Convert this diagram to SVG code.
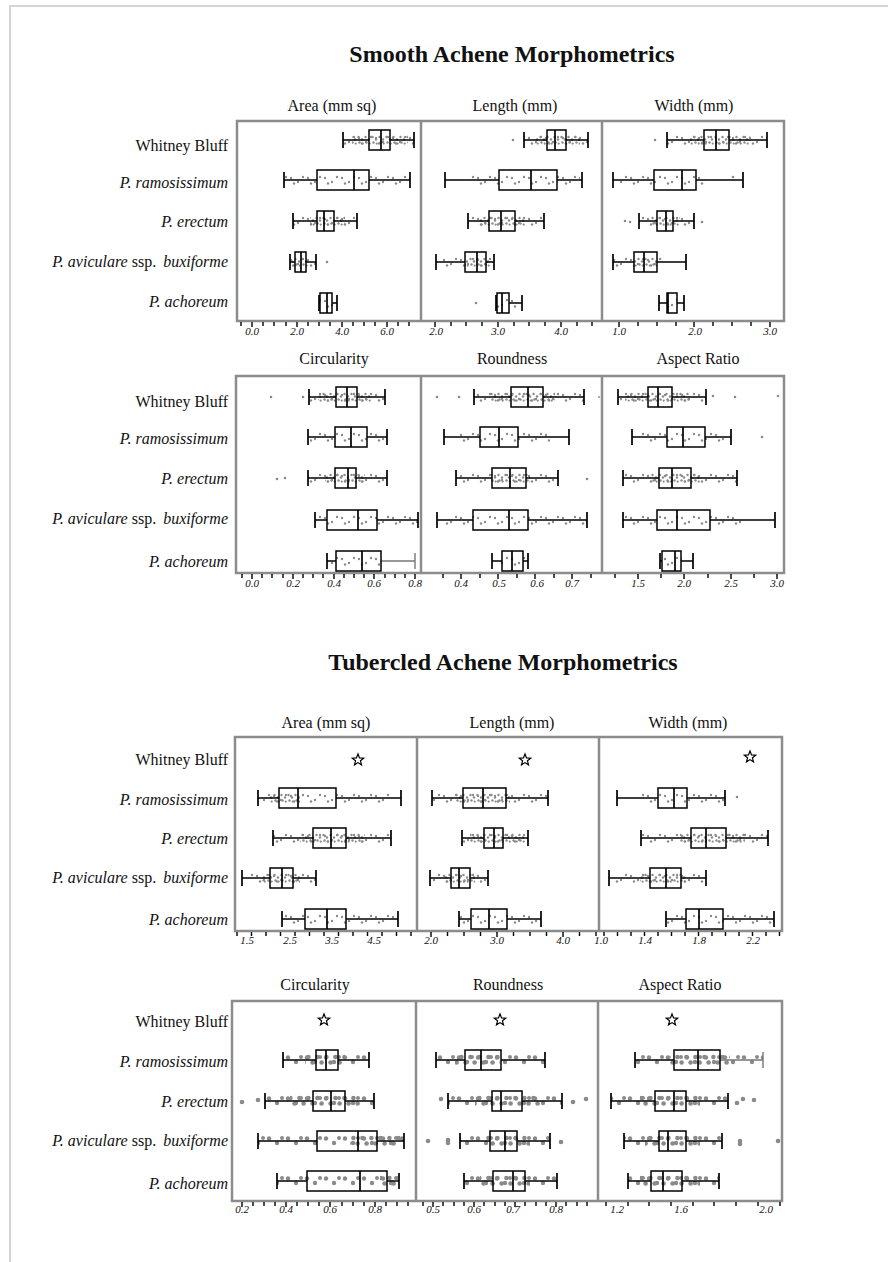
<svg xmlns="http://www.w3.org/2000/svg" xmlns:xlink="http://www.w3.org/1999/xlink" width="888" height="1262" viewBox="0 0 888 1262">
<style>
text{font-family:"Liberation Serif","Times New Roman",serif;fill:#111}
.tt{font-size:24px;font-weight:bold;text-anchor:middle}
.hd{font-size:16px;text-anchor:middle}
.lb{font-size:16px;text-anchor:end}
.i{font-style:italic}
.ax{font-size:11px;font-style:italic;text-anchor:middle}
.fr{fill:none;stroke:#8c8c8c;stroke-width:2.5}
.pg{fill:none;stroke:#c8c8c8;stroke-width:1.5}
.b{fill:none;stroke:#000;stroke-width:1.5}
.w{fill:none;stroke:#000;stroke-width:1.7}
.gw{fill:none;stroke:#777;stroke-width:1.4}
.tk{fill:none;stroke:#000;stroke-width:1.4}
.s{fill:url(#ps)}.d{fill:url(#pd)}.S{fill:url(#pS)}.D{fill:url(#pD)}
.o{fill:#8a8a8a}
.st{fill:none;stroke:#000;stroke-width:1.2}
</style>
<defs>
<pattern id="ps" width="17" height="10" patternUnits="userSpaceOnUse"><g fill="#8a8a8a"><circle cx="2" cy="3" r="1.2"/><circle cx="9" cy="7" r="1.2"/><circle cx="14" cy="2" r="1.2"/><circle cx="5" cy="8.5" r="1.2"/></g></pattern>
<pattern id="pd" width="7" height="10" patternUnits="userSpaceOnUse"><g fill="#8a8a8a"><circle cx="1.5" cy="2" r="1.2"/><circle cx="5" cy="4.5" r="1.2"/><circle cx="2.5" cy="7.5" r="1.2"/><circle cx="5.7" cy="8.6" r="1.1"/></g></pattern>
<pattern id="pS" width="19" height="12" patternUnits="userSpaceOnUse"><g fill="#8a8a8a"><circle cx="3" cy="3.5" r="2.2"/><circle cx="11" cy="8" r="2.2"/><circle cx="16" cy="3" r="2"/></g></pattern>
<pattern id="pD" width="9" height="12" patternUnits="userSpaceOnUse"><g fill="#8a8a8a"><circle cx="2.4" cy="3" r="2.3"/><circle cx="6.6" cy="8.5" r="2.3"/></g></pattern>
<path id="star" class="st" d="M0,-6L1.53,-2.1L5.71,-1.85L2.47,0.8L3.53,4.85L0,2.6L-3.53,4.85L-2.47,0.8L-5.71,-1.85L-1.53,-2.1Z"/>
</defs>
<rect width="888" height="1262" fill="#fff"/>
<path class="pg" d="M10 1262V6H888"/>

<text class="tt" x="512" y="62">Smooth Achene Morphometrics</text>
<text class="tt" x="503" y="670">Tubercled Achene Morphometrics</text>

<g id="labels">
<text class="lb" x="228" y="151">Whitney Bluff</text>
<text class="lb i" x="228" y="188">P. ramosissimum</text>
<text class="lb i" x="228" y="227">P. erectum</text>
<text class="lb" x="228" y="267"><tspan class="i">P. aviculare</tspan> ssp. <tspan class="i" dx="3">buxiforme</tspan></text>
<text class="lb i" x="228" y="307">P. achoreum</text>
<text class="lb" x="228" y="407">Whitney Bluff</text>
<text class="lb i" x="228" y="444">P. ramosissimum</text>
<text class="lb i" x="228" y="484">P. erectum</text>
<text class="lb" x="228" y="524"><tspan class="i">P. aviculare</tspan> ssp. <tspan class="i" dx="3">buxiforme</tspan></text>
<text class="lb i" x="228" y="567">P. achoreum</text>
<text class="lb" x="228" y="765">Whitney Bluff</text>
<text class="lb i" x="228" y="805">P. ramosissimum</text>
<text class="lb i" x="228" y="844">P. erectum</text>
<text class="lb" x="228" y="883"><tspan class="i">P. aviculare</tspan> ssp. <tspan class="i" dx="3">buxiforme</tspan></text>
<text class="lb i" x="228" y="925">P. achoreum</text>
<text class="lb" x="228" y="1027">Whitney Bluff</text>
<text class="lb i" x="228" y="1067">P. ramosissimum</text>
<text class="lb i" x="228" y="1107">P. erectum</text>
<text class="lb" x="228" y="1146"><tspan class="i">P. aviculare</tspan> ssp. <tspan class="i" dx="3">buxiforme</tspan></text>
<text class="lb i" x="228" y="1189">P. achoreum</text>
</g>

<g id="headers">
<text class="hd" x="332" y="111">Area (mm sq)</text>
<text class="hd" x="515" y="111">Length (mm)</text>
<text class="hd" x="694" y="111">Width (mm)</text>
<text class="hd" x="334" y="364">Circularity</text>
<text class="hd" x="512" y="364">Roundness</text>
<text class="hd" x="698" y="364">Aspect Ratio</text>
<text class="hd" x="326" y="728">Area (mm sq)</text>
<text class="hd" x="512" y="728">Length (mm)</text>
<text class="hd" x="688" y="728">Width (mm)</text>
<text class="hd" x="315" y="990">Circularity</text>
<text class="hd" x="508" y="990">Roundness</text>
<text class="hd" x="680" y="990">Aspect Ratio</text>
</g>

<g id="frames">
<rect class="fr" x="237" y="121" width="547" height="200"/><path class="fr" d="M421 121V321M602 121V321"/>
<rect class="fr" x="236" y="376" width="548" height="197"/><path class="fr" d="M421 376V573M602 376V573"/>
<rect class="fr" x="235" y="737" width="547" height="194"/><path class="fr" d="M417 737V931M599 737V931"/>
<rect class="fr" x="232" y="1001" width="550" height="200"/><path class="fr" d="M416 1001V1201M598 1001V1201"/>
</g>

<g id="axes">
<path class="tk" d="M241 322v4M252 322v5M263 322v4M274 322v4M286 322v4M297 322v5M308 322v4M319 322v4M330 322v4M342 322v5M353 322v4M364 322v4M375 322v4M387 322v5M398 322v4M409 322v4M435 322v5M451 322v4M466 322v4M482 322v4M498 322v5M514 322v4M529 322v4M545 322v4M561 322v5M577 322v4M592 322v4M619 322v5M638 322v4M657 322v4M676 322v4M694 322v5M713 322v4M732 322v4M751 322v4M770 322v5"/>
<text class="ax" x="252" y="335">0.0</text><text class="ax" x="297" y="335">2.0</text><text class="ax" x="342" y="335">4.0</text><text class="ax" x="387" y="335">6.0</text>
<text class="ax" x="436" y="335">2.0</text><text class="ax" x="498" y="335">3.0</text><text class="ax" x="561" y="335">4.0</text>
<text class="ax" x="619" y="335">1.0</text><text class="ax" x="695" y="335">2.0</text><text class="ax" x="770" y="335">3.0</text>

<path class="tk" d="M242 574v4M252 574v5M262 574v4M272 574v4M283 574v4M293 574v5M303 574v4M313 574v4M323 574v4M334 574v5M344 574v4M354 574v4M364 574v4M374 574v5M385 574v4M395 574v4M405 574v4M415 574v5M443 574v4M461 574v5M480 574v4M498 574v5M517 574v4M535 574v5M554 574v4M572 574v5M591 574v4M615 574v4M638 574v5M661 574v4M684 574v5M708 574v4M731 574v5M754 574v4M777 574v5"/>
<text class="ax" x="252" y="587">0.0</text><text class="ax" x="293" y="587">0.2</text><text class="ax" x="334" y="587">0.4</text><text class="ax" x="374" y="587">0.6</text><text class="ax" x="415" y="587">0.8</text>
<text class="ax" x="461" y="587">0.4</text><text class="ax" x="499" y="587">0.5</text><text class="ax" x="537" y="587">0.6</text><text class="ax" x="572" y="587">0.7</text>
<text class="ax" x="638" y="587">1.5</text><text class="ax" x="684" y="587">2.0</text><text class="ax" x="731" y="587">2.5</text><text class="ax" x="777" y="587">3.0</text>

<path class="tk" d="M237 932v4M251.5 932v4M266 932v4M280.5 932v4M295 932v4M309.5 932v4M324 932v4M338.5 932v4M353 932v4M367.5 932v4M382 932v4M396.5 932v4M411 932v4M431 932v5M447.5 932v4M464 932v4M480.5 932v4M497 932v5M513.5 932v4M530 932v4M546.5 932v4M563 932v5M579.5 932v4M596 932v4M604 932v4M617.5 932v4M631 932v4M644.5 932v4M658 932v4M671.5 932v4M685 932v4M698.5 932v4M712 932v4M725.5 932v4M739 932v4M752.5 932v4M766 932v4M779.5 932v4"/>
<text class="ax" x="247" y="944">1.5</text><text class="ax" x="290" y="944">2.5</text><text class="ax" x="332" y="944">3.5</text><text class="ax" x="374" y="944">4.5</text>
<text class="ax" x="431" y="944">2.0</text><text class="ax" x="497" y="944">3.0</text><text class="ax" x="563" y="944">4.0</text>
<text class="ax" x="601" y="944">1.0</text><text class="ax" x="645" y="944">1.4</text><text class="ax" x="699" y="944">1.8</text><text class="ax" x="753" y="944">2.2</text>

<path class="tk" d="M242 1202v5M253 1202v4M264 1202v4M275 1202v4M286 1202v5M297 1202v4M308 1202v4M319 1202v4M330 1202v5M342 1202v4M353 1202v4M364 1202v4M375 1202v5M386 1202v4M397 1202v4M408 1202v4M423 1202v4M433 1202v5M443 1202v4M454 1202v4M464 1202v4M474 1202v5M484 1202v4M495 1202v4M505 1202v4M515 1202v5M525 1202v4M536 1202v4M546 1202v4M556 1202v5M566 1202v4M577 1202v4M587 1202v4M606 1202v4M628 1202v4M649 1202v4M671 1202v4M693 1202v4M714 1202v4M736 1202v4M758 1202v4M780 1202v4"/>
<text class="ax" x="242" y="1213">0.2</text><text class="ax" x="286" y="1213">0.4</text><text class="ax" x="330" y="1213">0.6</text><text class="ax" x="375" y="1213">0.8</text>
<text class="ax" x="433" y="1213">0.5</text><text class="ax" x="474" y="1213">0.6</text><text class="ax" x="513" y="1213">0.7</text><text class="ax" x="556" y="1213">0.8</text>
<text class="ax" x="617" y="1213">1.2</text><text class="ax" x="681" y="1213">1.6</text><text class="ax" x="766" y="1213">2.0</text>
</g>

<!-- Smooth row 1 -->
<g id="s-area">
<g id="s-area-wb"><rect class="s" transform="translate(0 135)" x="343" width="71" height="10"/><rect class="d" transform="translate(0 135)" x="352" width="56" height="10"/><path class="w" d="M343 140H369M390 140H414M343 132v16M414 132v16M381 130v20"/><rect class="b" x="369" y="130" width="21" height="20"/></g>
<g id="s-area-ram"><rect class="s" transform="translate(0 175)" x="284" width="126" height="10"/><path class="w" d="M284 180H317M369 180H410M284 172v16M410 172v16M354 170v20"/><rect class="b" x="317" y="170" width="52" height="20"/></g>
<g id="s-area-ere"><rect class="s" transform="translate(0 216)" x="293" width="64" height="10"/><rect class="d" transform="translate(0 216)" x="310" width="35" height="10"/><path class="w" d="M293 221H317M334 221H357M293 213v16M357 213v16M324 211v20"/><rect class="b" x="317" y="211" width="17" height="20"/></g>
<g id="s-area-avi"><rect class="s" transform="translate(0 257)" x="290" width="26" height="10"/><rect class="d" transform="translate(0 257)" x="292" width="16" height="10"/><path class="w" d="M290 262H295M306 262H316M290 254v16M316 254v16M301 252v20"/><rect class="b" x="295" y="252" width="11" height="20"/><circle class="o" cx="327" cy="262" r="1.3"/></g>
<g id="s-area-ach"><rect class="s" transform="translate(0 298)" x="320" width="14" height="10"/><path class="w" d="M319 303H320M332 303H337M319 295v16M337 295v16M327 293v20"/><rect class="b" x="320" y="293" width="12" height="20"/></g>
</g>
<g id="s-length">
<g id="s-len-wb"><rect class="s" transform="translate(0 135)" x="524" width="64" height="10"/><rect class="d" transform="translate(0 135)" x="535" width="45" height="10"/><path class="w" d="M524 140H547M566 140H588M524 132v16M588 132v16M555 130v20"/><rect class="b" x="547" y="130" width="19" height="20"/><circle class="o" cx="513" cy="140" r="1.3"/></g>
<g id="s-len-ram"><rect class="s" transform="translate(0 175)" x="470" width="110" height="10"/><path class="w" d="M445 180H499M557 180H582M445 172v16M582 172v16M531 170v20"/><rect class="b" x="499" y="170" width="58" height="20"/></g>
<g id="s-len-ere"><rect class="s" transform="translate(0 216)" x="468" width="76" height="10"/><rect class="d" transform="translate(0 216)" x="480" width="45" height="10"/><path class="w" d="M468 221H489M515 221H544M468 213v16M544 213v16M501 211v20"/><rect class="b" x="489" y="211" width="26" height="20"/></g>
<g id="s-len-avi"><rect class="s" transform="translate(0 257)" x="440" width="54" height="10"/><rect class="d" transform="translate(0 257)" x="465" width="25" height="10"/><path class="w" d="M436 262H465M486 262H494M436 254v16M494 254v16M477 252v20"/><rect class="b" x="465" y="252" width="21" height="20"/></g>
<g id="s-len-ach"><rect class="s" transform="translate(0 298)" x="497" width="20" height="10"/><path class="w" d="M496 303H497M509 303H522M496 295v16M522 295v16M502 293v20"/><rect class="b" x="497" y="293" width="12" height="20"/><circle class="o" cx="476" cy="303" r="1.3"/></g>
</g>
<g id="s-width">
<g id="s-wid-wb"><rect class="s" transform="translate(0 135)" x="667" width="100" height="10"/><rect class="d" transform="translate(0 135)" x="690" width="60" height="10"/><path class="w" d="M667 140H704M729 140H767M667 132v16M767 132v16M716 130v20"/><rect class="b" x="704" y="130" width="25" height="20"/><circle class="o" cx="655" cy="140" r="1.3"/></g>
<g id="s-wid-ram"><rect class="s" transform="translate(0 175)" x="620" width="85" height="10"/><path class="w" d="M613 180H654M696 180H743M613 172v16M743 172v16M682 170v20"/><rect class="b" x="654" y="170" width="42" height="20"/><circle class="o" cx="733" cy="177" r="1.3"/></g>
<g id="s-wid-ere"><rect class="s" transform="translate(0 216)" x="639" width="55" height="10"/><rect class="d" transform="translate(0 216)" x="650" width="30" height="10"/><path class="w" d="M639 221H657M673 221H694M639 213v16M694 213v16M666 211v20"/><rect class="b" x="657" y="211" width="16" height="20"/><circle class="o" cx="625" cy="221" r="1.3"/><circle class="o" cx="630" cy="222" r="1.3"/><circle class="o" cx="702" cy="222" r="1.3"/></g>
<g id="s-wid-avi"><rect class="s" transform="translate(0 257)" x="613" width="50" height="10"/><rect class="d" transform="translate(0 257)" x="634" width="23" height="10"/><path class="w" d="M613 262H634M657 262H686M613 254v16M686 254v16M644 252v20"/><rect class="b" x="634" y="252" width="23" height="20"/></g>
<g id="s-wid-ach"><rect class="s" transform="translate(0 298)" x="667" width="10" height="10"/><path class="w" d="M659 303H667M677 303H684M659 295v16M684 295v16M668 293v20"/><rect class="b" x="667" y="293" width="10" height="20"/></g>
</g>

<!-- Smooth row 2 -->
<g id="s-circ">
<g id="s-cir-wb"><rect class="s" transform="translate(0 392)" x="309" width="76" height="10"/><rect class="d" transform="translate(0 392)" x="318" width="54" height="10"/><path class="w" d="M309 397H336M357 397H385M309 389v16M385 389v16M347 387v20"/><rect class="b" x="336" y="387" width="21" height="20"/><circle class="o" cx="271" cy="397" r="1.3"/><circle class="o" cx="303" cy="397" r="1.3"/></g>
<g id="s-cir-ram"><rect class="s" transform="translate(0 432)" x="310" width="77" height="10"/><path class="w" d="M308 437H335M367 437H387M308 429v16M387 429v16M351 427v20"/><rect class="b" x="335" y="427" width="32" height="20"/></g>
<g id="s-cir-ere"><rect class="s" transform="translate(0 473)" x="308" width="79" height="10"/><rect class="d" transform="translate(0 473)" x="325" width="40" height="10"/><path class="w" d="M308 478H335M356 478H387M308 470v16M387 470v16M348 468v20"/><rect class="b" x="335" y="468" width="21" height="20"/><circle class="o" cx="277" cy="479" r="1.3"/><circle class="o" cx="285" cy="478" r="1.3"/></g>
<g id="s-cir-avi"><rect class="s" transform="translate(0 515)" x="315" width="103" height="10"/><path class="w" d="M315 520H327M377 520H418M315 512v16M418 512v16M358 510v20"/><rect class="b" x="327" y="510" width="50" height="20"/></g>
<g id="s-cir-ach"><rect class="s" transform="translate(0 556)" x="330" width="50" height="10"/><path class="w" d="M327 561H336M327 553v16M362 551v20"/><path class="gw" d="M381 561H415M415 553v16"/><rect class="b" x="336" y="551" width="45" height="20"/></g>
</g>
<g id="s-round">
<g id="s-rnd-wb"><rect class="s" transform="translate(0 392)" x="474" width="110" height="10"/><rect class="d" transform="translate(0 392)" x="490" width="65" height="10"/><path class="w" d="M474 397H511M543 397H584M474 389v16M584 389v16M528 387v20"/><rect class="b" x="511" y="387" width="32" height="20"/><circle class="o" cx="437" cy="397" r="1.3"/><circle class="o" cx="459" cy="397" r="1.3"/><circle class="o" cx="599" cy="397" r="0.9"/></g>
<g id="s-rnd-ram"><rect class="s" transform="translate(0 432)" x="460" width="90" height="10"/><path class="w" d="M444 437H480M518 437H569M444 429v16M569 429v16M499 427v20"/><rect class="b" x="480" y="427" width="38" height="20"/></g>
<g id="s-rnd-ere"><rect class="s" transform="translate(0 473)" x="456" width="102" height="10"/><rect class="d" transform="translate(0 473)" x="490" width="40" height="10"/><path class="w" d="M456 478H492M526 478H558M456 470v16M558 470v16M510 468v20"/><rect class="b" x="492" y="468" width="34" height="20"/><circle class="o" cx="587" cy="479" r="1.3"/></g>
<g id="s-rnd-avi"><rect class="s" transform="translate(0 515)" x="445" width="142" height="10"/><path class="w" d="M437 520H473M528 520H587M437 512v16M587 512v16M509 510v20"/><rect class="b" x="473" y="510" width="55" height="20"/></g>
<g id="s-rnd-ach"><rect class="s" transform="translate(0 556)" x="500" width="28" height="10"/><path class="w" d="M492 561H502M523 561H528M492 553v16M528 553v16M512 551v20"/><rect class="b" x="502" y="551" width="21" height="20"/></g>
</g>
<g id="s-aspect">
<g id="s-ar-wb"><rect class="s" transform="translate(0 392)" x="618" width="88" height="10"/><rect class="d" transform="translate(0 392)" x="625" width="65" height="10"/><path class="w" d="M618 397H648M672 397H706M618 389v16M706 389v16M658 387v20"/><rect class="b" x="648" y="387" width="24" height="20"/><circle class="o" cx="713" cy="396" r="1.3"/><circle class="o" cx="735" cy="397" r="1.3"/><circle class="o" cx="778" cy="396" r="1.3"/></g>
<g id="s-ar-ram"><rect class="s" transform="translate(0 432)" x="640" width="85" height="10"/><path class="w" d="M632 437H667M705 437H731M632 429v16M731 429v16M683 427v20"/><rect class="b" x="667" y="427" width="38" height="20"/><circle class="o" cx="762" cy="437" r="1.3"/></g>
<g id="s-ar-ere"><rect class="s" transform="translate(0 473)" x="623" width="114" height="10"/><rect class="d" transform="translate(0 473)" x="650" width="50" height="10"/><path class="w" d="M623 478H659M691 478H737M623 470v16M737 470v16M672 468v20"/><rect class="b" x="659" y="468" width="32" height="20"/></g>
<g id="s-ar-avi"><rect class="s" transform="translate(0 515)" x="623" width="120" height="10"/><path class="w" d="M623 520H657M710 520H775M623 512v16M775 512v16M677 510v20"/><rect class="b" x="657" y="510" width="53" height="20"/></g>
<g id="s-ar-ach"><rect class="s" transform="translate(0 556)" x="662" width="20" height="10"/><path class="w" d="M660 561H662M681 561H693M660 553v16M693 553v16M675 551v20"/><rect class="b" x="662" y="551" width="19" height="20"/></g>
</g>

<!-- Tubercled row 3 -->
<g id="t-area">
<use xlink:href="#star" href="#star" x="358" y="760"/>
<g id="t-area-ram"><rect class="s" transform="translate(0 793)" x="262" width="130" height="10"/><rect class="d" transform="translate(0 793)" x="270" width="30" height="10"/><path class="w" d="M258 798H279M336 798H401M258 790v16M401 790v16M298 788v20"/><rect class="b" x="279" y="788" width="57" height="20"/></g>
<g id="t-area-ere"><rect class="s" transform="translate(0 833)" x="273" width="118" height="10"/><rect class="d" transform="translate(0 833)" x="300" width="65" height="10"/><path class="w" d="M273 838H313M346 838H391M273 830v16M391 830v16M331 828v20"/><rect class="b" x="313" y="828" width="33" height="20"/></g>
<g id="t-area-avi"><rect class="s" transform="translate(0 873)" x="250" width="66" height="10"/><rect class="d" transform="translate(0 873)" x="262" width="38" height="10"/><path class="w" d="M242 878H270M293 878H316M242 870v16M316 870v16M282 868v20"/><rect class="b" x="270" y="868" width="23" height="20"/></g>
<g id="t-area-ach"><rect class="s" transform="translate(0 914)" x="282" width="112" height="10"/><path class="w" d="M282 919H305M346 919H398M282 911v16M398 911v16M327 909v20"/><rect class="b" x="305" y="909" width="41" height="20"/></g>
</g>
<g id="t-length">
<use xlink:href="#star" href="#star" x="525" y="760"/>
<g id="t-len-ram"><rect class="s" transform="translate(0 793)" x="432" width="116" height="10"/><rect class="d" transform="translate(0 793)" x="455" width="55" height="10"/><path class="w" d="M432 798H463M506 798H548M432 790v16M548 790v16M483 788v20"/><rect class="b" x="463" y="788" width="43" height="20"/></g>
<g id="t-len-ere"><rect class="s" transform="translate(0 833)" x="462" width="66" height="10"/><rect class="d" transform="translate(0 833)" x="470" width="55" height="10"/><path class="w" d="M462 838H484M503 838H528M462 830v16M528 830v16M494 828v20"/><rect class="b" x="484" y="828" width="19" height="20"/></g>
<g id="t-len-avi"><rect class="s" transform="translate(0 873)" x="432" width="56" height="10"/><rect class="d" transform="translate(0 873)" x="445" width="30" height="10"/><path class="w" d="M430 878H451M470 878H488M430 870v16M488 870v16M459 868v20"/><rect class="b" x="451" y="868" width="19" height="20"/></g>
<g id="t-len-ach"><rect class="s" transform="translate(0 914)" x="459" width="80" height="10"/><path class="w" d="M459 919H471M507 919H541M459 911v16M541 911v16M489 909v20"/><rect class="b" x="471" y="909" width="36" height="20"/></g>
</g>
<g id="t-width">
<use xlink:href="#star" href="#star" x="750" y="757"/>
<g id="t-wid-ram"><rect class="s" transform="translate(0 793)" x="640" width="85" height="10"/><path class="w" d="M617 798H658M687 798H725M617 790v16M725 790v16M674 788v20"/><rect class="b" x="658" y="788" width="29" height="20"/><circle class="o" cx="737" cy="797" r="1.3"/></g>
<g id="t-wid-ere"><rect class="s" transform="translate(0 833)" x="641" width="127" height="10"/><rect class="d" transform="translate(0 833)" x="680" width="65" height="10"/><path class="w" d="M641 838H691M726 838H768M641 830v16M768 830v16M706 828v20"/><rect class="b" x="691" y="828" width="35" height="20"/></g>
<g id="t-wid-avi"><rect class="s" transform="translate(0 873)" x="615" width="90" height="10"/><rect class="d" transform="translate(0 873)" x="640" width="45" height="10"/><path class="w" d="M609 878H650M681 878H706M609 870v16M706 870v16M666 868v20"/><rect class="b" x="650" y="868" width="31" height="20"/></g>
<g id="t-wid-ach"><rect class="s" transform="translate(0 914)" x="666" width="108" height="10"/><path class="w" d="M666 919H686M723 919H774M666 911v16M774 911v16M699 909v20"/><rect class="b" x="686" y="909" width="37" height="20"/></g>
</g>

<!-- Tubercled row 4 -->
<g id="t-circ">
<use xlink:href="#star" href="#star" x="324" y="1020"/>
<g id="t-cir-ram"><rect class="S" transform="translate(0 1054)" x="283" width="86" height="12"/><rect class="D" transform="translate(0 1054)" x="305" width="40" height="12"/><path class="w" d="M283 1060H316M338 1060H369M283 1052v16M369 1052v16M326 1050v20"/><rect class="b" x="316" y="1050" width="22" height="20"/></g>
<g id="t-cir-ere"><rect class="S" transform="translate(0 1095)" x="265" width="109" height="12"/><rect class="D" transform="translate(0 1095)" x="290" width="70" height="12"/><path class="w" d="M265 1101H313M345 1101H374M265 1093v16M374 1093v16M331 1091v20"/><rect class="b" x="313" y="1091" width="32" height="20"/><circle class="o" cx="242" cy="1102" r="2.3"/><circle class="o" cx="258" cy="1100" r="2.3"/></g>
<g id="t-cir-avi"><rect class="S" transform="translate(0 1135)" x="258" width="146" height="12"/><rect class="D" transform="translate(0 1135)" x="350" width="50" height="12"/><path class="w" d="M258 1141H317M377 1141H404M258 1133v16M404 1133v16M358 1131v20"/><rect class="b" x="317" y="1131" width="60" height="20"/></g>
<g id="t-cir-ach"><rect class="S" transform="translate(0 1175)" x="277" width="122" height="12"/><rect class="D" transform="translate(0 1175)" x="380" width="18" height="12"/><path class="w" d="M277 1181H307M387 1181H399M277 1173v16M399 1173v16M360 1171v20"/><rect class="b" x="307" y="1171" width="80" height="20"/></g>
</g>
<g id="t-round">
<use xlink:href="#star" href="#star" x="500" y="1020"/>
<g id="t-rnd-ram"><rect class="S" transform="translate(0 1054)" x="436" width="109" height="12"/><rect class="D" transform="translate(0 1054)" x="455" width="45" height="12"/><path class="w" d="M436 1060H465M501 1060H545M436 1052v16M545 1052v16M481 1050v20"/><rect class="b" x="465" y="1050" width="36" height="20"/></g>
<g id="t-rnd-ere"><rect class="S" transform="translate(0 1095)" x="448" width="114" height="12"/><rect class="D" transform="translate(0 1095)" x="475" width="65" height="12"/><path class="w" d="M448 1101H492M522 1101H562M448 1093v16M562 1093v16M501 1091v20"/><rect class="b" x="492" y="1091" width="30" height="20"/><circle class="o" cx="441" cy="1099" r="2.3"/><circle class="o" cx="573" cy="1102" r="2.3"/><circle class="o" cx="586" cy="1099" r="2.3"/></g>
<g id="t-rnd-avi"><rect class="S" transform="translate(0 1135)" x="460" width="90" height="12"/><rect class="D" transform="translate(0 1135)" x="485" width="45" height="12"/><path class="w" d="M460 1141H490M517 1141H550M460 1133v16M550 1133v16M505 1131v20"/><rect class="b" x="490" y="1131" width="27" height="20"/><circle class="o" cx="428" cy="1141" r="2.3"/><circle class="o" cx="448" cy="1140" r="2.3"/><circle class="o" cx="448" cy="1143" r="2.3"/><circle class="o" cx="561" cy="1142" r="2.3"/></g>
<g id="t-rnd-ach"><rect class="S" transform="translate(0 1175)" x="464" width="93" height="12"/><rect class="D" transform="translate(0 1175)" x="480" width="50" height="12"/><path class="w" d="M464 1181H493M525 1181H557M464 1173v16M557 1173v16M513 1171v20"/><rect class="b" x="493" y="1171" width="32" height="20"/></g>
</g>
<g id="t-aspect">
<use xlink:href="#star" href="#star" x="672" y="1020"/>
<g id="t-ar-ram"><rect class="S" transform="translate(0 1054)" x="635" width="128" height="12"/><rect class="D" transform="translate(0 1054)" x="670" width="60" height="12"/><path class="w" d="M635 1060H674M635 1052v16M698 1050v20"/><path class="gw" d="M720 1060H763M763 1052v16"/><rect class="b" x="674" y="1050" width="46" height="20"/></g>
<g id="t-ar-ere"><rect class="S" transform="translate(0 1095)" x="611" width="117" height="12"/><rect class="D" transform="translate(0 1095)" x="640" width="60" height="12"/><path class="w" d="M611 1101H655M686 1101H728M611 1093v16M728 1093v16M674 1091v20"/><rect class="b" x="655" y="1091" width="31" height="20"/><circle class="o" cx="737" cy="1103" r="2.3"/><circle class="o" cx="743" cy="1099" r="2.3"/><circle class="o" cx="754" cy="1100" r="2.3"/></g>
<g id="t-ar-avi"><rect class="S" transform="translate(0 1135)" x="624" width="98" height="12"/><rect class="D" transform="translate(0 1135)" x="645" width="55" height="12"/><path class="w" d="M624 1141H659M686 1141H722M624 1133v16M722 1133v16M668 1131v20"/><rect class="b" x="659" y="1131" width="27" height="20"/><circle class="o" cx="740" cy="1141" r="2.3"/><circle class="o" cx="740" cy="1144" r="2.3"/><circle class="o" cx="778" cy="1141" r="2.3"/></g>
<g id="t-ar-ach"><rect class="S" transform="translate(0 1175)" x="628" width="91" height="12"/><rect class="D" transform="translate(0 1175)" x="640" width="60" height="12"/><path class="w" d="M628 1181H651M682 1181H719M628 1173v16M719 1173v16M663 1171v20"/><rect class="b" x="651" y="1171" width="31" height="20"/></g>
</g>
</svg>
